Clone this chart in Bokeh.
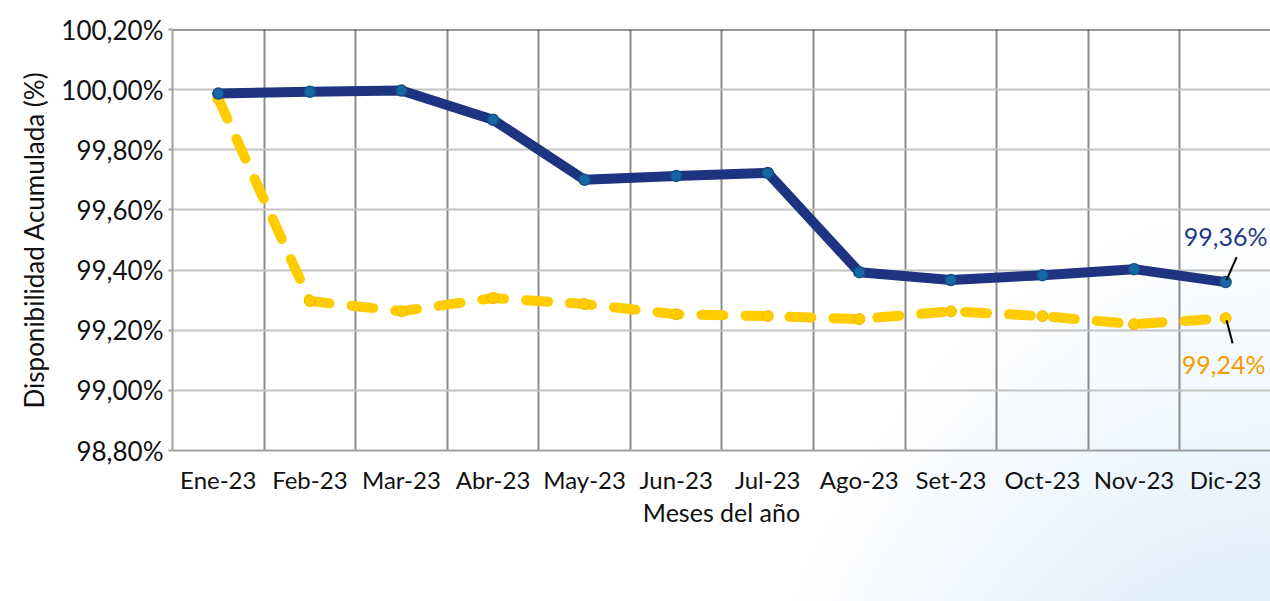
from bokeh.plotting import figure
from bokeh.models import (Range1d, FixedTicker, Legend, LegendItem, ColumnDataSource, CustomJSTickFormatter)
from bokeh.embed import file_html
from bokeh.resources import INLINE
from bokeh.core.properties import value

months = ["Ene-23", "Feb-23", "Mar-23", "Abr-23", "May-23", "Jun-23",
          "Jul-23", "Ago-23", "Set-23", "Oct-23", "Nov-23", "Dic-23"]
disponibilidad = [99.987, 99.993, 99.997, 99.900, 99.700, 99.713,
                  99.723, 99.393, 99.367, 99.383, 99.403, 99.36]
meta = [99.97, 99.297, 99.263, 99.307, 99.287, 99.253,
        99.247, 99.237, 99.263, 99.247, 99.22, 99.24]
y_ticks = [98.8, 99.0, 99.2, 99.4, 99.6, 99.8, 100.0, 100.2]

FONT = "Lato"
BLUE = "#1f3480"
YELLOW = "#ffcc00"

idx = list(range(len(months)))
src = ColumnDataSource(dict(x=idx, d=disponibilidad, m=meta))

p = figure(frame_width=1098, frame_height=421, output_backend="svg", toolbar_location=None,
           x_range=Range1d(-0.5, 11.49), y_range=Range1d(98.8, 100.2),
           min_border_top=29, min_border_left=172, min_border_right=0, min_border_bottom=0)
p.background_fill_alpha = 0
p.border_fill_alpha = 0
p.outline_line_color = None
p.styles = {"background": "radial-gradient(ellipse 560px 820px at 100% 100%, #bcdff8 0%, #d6ebfb 38%, #f0f7fe 75%, #ffffff 100%)"}

# axes
p.xaxis.ticker = FixedTicker(ticks=idx)
p.xaxis.major_label_overrides = {i: m for i, m in enumerate(months)}
p.yaxis.ticker = FixedTicker(ticks=y_ticks)
p.yaxis.formatter = CustomJSTickFormatter(code="return tick.toFixed(2).replace('.', ',') + '%';")
for ax in (p.xaxis[0], p.yaxis[0]):
    ax.major_label_text_font = FONT
    ax.major_label_text_color = "#111111"
    ax.axis_label_text_font = FONT
    ax.axis_label_text_font_style = "normal"
    ax.axis_label_text_color = "#111111"
    ax.minor_tick_line_color = None
    ax.axis_line_color = "#a0a0a0"
    ax.axis_line_width = 2
p.xaxis.major_label_text_font_size = "24px"
p.yaxis.major_label_text_font_size = "26px"
p.xaxis.axis_label_text_font_size = "25px"
p.yaxis.axis_label_text_font_size = "26px"
p.xaxis.major_tick_line_color = None
p.yaxis.major_tick_line_color = "#a0a0a0"
p.yaxis.major_tick_line_width = 2
p.yaxis.major_tick_out = 4
p.yaxis.major_tick_in = 0
p.xaxis.major_label_standoff = 8
p.yaxis.major_label_standoff = 5
p.xaxis.axis_label = "Meses del año"
p.yaxis.axis_label = "Disponibilidad Acumulada (%)"
p.xaxis.axis_label_standoff = 0
p.yaxis.axis_label_standoff = 8

# grids
p.xgrid.ticker = FixedTicker(ticks=[i + 0.5 for i in idx])
p.xgrid.grid_line_color = "#8c8c8c"
p.xgrid.grid_line_width = 2
p.ygrid.ticker = FixedTicker(ticks=y_ticks[:-1])
p.ygrid.grid_line_color = "#c4c4c4"
p.ygrid.grid_line_width = 2
# top border line
p.line(x=[-0.5, 11.49], y=[y_ticks[-1], y_ticks[-1]], line_color="#333333", line_width=2)

# series
lm = p.line("x", "m", source=src, line_color=YELLOW, line_width=10, line_dash="22 22", line_cap="round")
sm = p.scatter("x", "m", source=src, marker="circle", size=11, fill_color=YELLOW, line_color="#f0b800")
ld = p.line("x", "d", source=src, line_color=BLUE, line_width=10, line_join="round")
sd = p.scatter("x", "d", source=src, marker="circle", size=11, fill_color="#1668a5", line_color="#174e8a", line_width=1.5)

# end labels
last = len(months) - 1
p.segment(x0=[last + 0.12], y0=[disponibilidad[last] + 25 / 300], x1=[last + 0.01], y1=[disponibilidad[last] + 2 / 300],
          line_color="black", line_width=2)
p.segment(x0=[last + 0.01], y0=[meta[last] - 2 / 300], x1=[last + 0.076], y1=[meta[last] - 25 / 300],
          line_color="black", line_width=2)
p.text(x=[last], y=[disponibilidad[last]], text=[f"{disponibilidad[last]:.2f}%".replace(".", ",")],
       x_offset=0, y_offset=-46, text_align="center", text_baseline="middle", text_color="#233a8a",
       text_font=value(FONT), text_font_size="25px")
p.text(x=[last], y=[meta[last]], text=[f"{meta[last]:.2f}%".replace(".", ",")],
       x_offset=-2, y_offset=46, text_align="center", text_baseline="middle", text_color="#f39c00",
       text_font=value(FONT), text_font_size="25px")

legend = Legend(items=[LegendItem(label="Disponibilidad Acumulada", renderers=[ld, sd]),
                       LegendItem(label="Meta Programada", renderers=[lm, sm])],
                orientation="horizontal", location="top",
                label_text_font=FONT, label_text_font_size="26px", label_text_color="#111111",
                glyph_width=45, label_standoff=2, spacing=18, padding=0, margin=0,
                label_width=248,
                background_fill_alpha=0, border_line_color=None)
p.add_layout(legend, "below")

open("out.html", "w").write(file_html(p, INLINE))
